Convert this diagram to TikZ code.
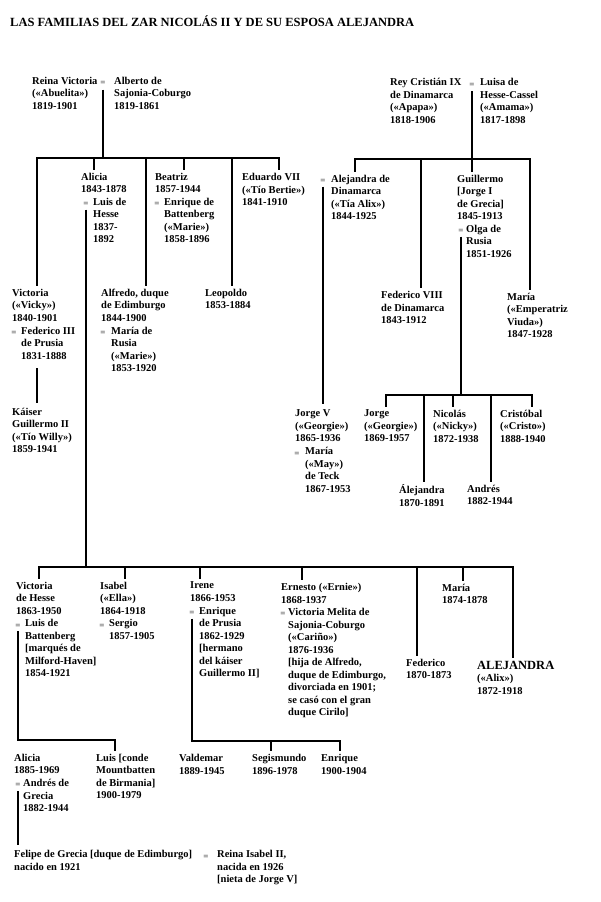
\documentclass[tikz,border=0pt]{standalone}
\usepackage{fontspec}
\setmainfont{Liberation Serif}

\begin{document}
\begin{tikzpicture}[x=1pt, y=-1pt,
	every node/.style={inner sep=0pt},
	person/.style={anchor=north west, align=left, yshift=8.75pt, font=\fontsize{10.5}{12.5}\selectfont\bfseries, execute at begin node=\strut},
	eq/.style={anchor=base, font=\fontsize{9}{12}\selectfont},
	famline/.style={line width=1.7pt, line join=miter},
	tie/.style={famline, shorten <=3pt, shorten >=3pt}]
	\useasboundingbox (0,0) rectangle (600,902);

	\node [anchor=base west, font=\fontsize{12.5}{15}\selectfont\bfseries] (title) at (10,27) {LAS FAMILIAS DEL ZAR NICOLÁS II Y DE SU ESPOSA ALEJANDRA};

	\node [person] (reinaV) at (32,85.5) {Reina Victoria\\(«Abuelita»)\\1819-1901};
	\node [eq] (eqRV) at (103,85.5) {=};
	\node [person] (alberto) at (114,85.5) {Alberto de\\Sajonia-Coburgo\\1819-1861};

	\node [person] (alicia) at (81,181.5) {Alicia\\1843-1878};
	\node [eq] (eqAL) at (86,206.5) {=};
	\node [person] (luisH) at (93,206.5) {Luis de\\Hesse\\1837-\\1892};
	\node [person] (beatriz) at (155,181.5) {Beatriz\\1857-1944};
	\node [eq] (eqBE) at (157,206.5) {=};
	\node [person] (enriqueB) at (164,206.5) {Enrique de\\Battenberg\\(«Marie»)\\1858-1896};
	\node [person] (eduardo) at (242,182) {Eduardo VII\\(«Tío Bertie»)\\1841-1910};
	\node [eq] (eqED) at (323,183.5) {=};
	\node [person] (alejD) at (331,183.5) {Alejandra de\\Dinamarca\\(«Tía Alix»)\\1844-1925};

	\node [person] (victoria) at (12,297.5) {Victoria\\(«Vicky»)\\1840-1901};
	\node [eq] (eqVI) at (14,335.5) {=};
	\node [person] (federico) at (21,335.5) {Federico III\\de Prusia\\1831-1888};
	\node [person] (kaiser) at (12,416.5) {Káiser\\Guillermo II\\(«Tío Willy»)\\1859-1941};
	\node [person] (alfredo) at (101,297.5) {Alfredo, duque\\de Edimburgo\\1844-1900};
	\node [eq] (eqAF) at (103,335.5) {=};
	\node [person] (mariaR) at (111,335.5) {María de\\Rusia\\(«Marie»)\\1853-1920};
	\node [person] (leopoldo) at (205,297.5) {Leopoldo\\1853-1884};

	\node [person] (cristian) at (390,87) {Rey Cristián IX\\de Dinamarca\\(«Apapa»)\\1818-1906};
	\node [eq] (eqCL) at (472,87) {=};
	\node [person] (luisa) at (480,87) {Luisa de\\Hesse-Cassel\\(«Amama»)\\1817-1898};

	\node [person] (guillermo) at (457,183.5) {Guillermo\\{[}Jorge I\\de Grecia]\\1845-1913};
	\node [eq] (eqGO) at (461,233.5) {=};
	\node [person] (olga) at (466,233.5) {Olga de\\Rusia\\1851-1926};
	\node [person] (federico8) at (381,300) {Federico VIII\\de Dinamarca\\1843-1912};
	\node [person] (mariaE) at (507,301.5) {María\\(«Emperatriz\\Viuda»)\\1847-1928};

	\node [person] (jorgeV) at (295,418.5) {Jorge V\\(«Georgie»)\\1865-1936};
	\node [eq] (eqJM) at (297,456) {=};
	\node [person] (mayT) at (305,456) {María\\(«May»)\\de Teck\\1867-1953};
	\node [person] (jorge) at (364,418.5) {Jorge\\(«Georgie»)\\1869-1957};
	\node [person] (nicolas) at (433,418.5) {Nicolás\\(«Nicky»)\\1872-1938};
	\node [person] (cristobal) at (500,418.5) {Cristóbal\\(«Cristo»)\\1888-1940};
	\node [person] (alejandraG) at (399,493.5) {Álejandra\\1870-1891};
	\node [person] (andres) at (467,493.5) {Andrés\\1882-1944};

	\node [person] (victoriaH) at (16,590.5) {Victoria\\de Hesse\\1863-1950};
	\node [eq] (eqVL) at (18,628) {=};
	\node [person] (luisB) at (25,628) {Luis de\\Battenberg\\{[}marqués de\\Milford-Haven]\\1854-1921};
	\node [person] (isabel) at (100,590.5) {Isabel\\(«Ella»)\\1864-1918};
	\node [eq] (eqIS) at (102,628) {=};
	\node [person] (sergio) at (109,628) {Sergio\\1857-1905};
	\node [person] (irene) at (190,590.5) {Irene\\1866-1953};
	\node [eq] (eqIR) at (192,615.5) {=};
	\node [person] (enriqueP) at (199,615.5) {Enrique\\de Prusia\\1862-1929\\{[}hermano\\del káiser\\Guillermo II]};
	\node [person] (ernesto) at (281,591.8) {Ernesto («Ernie»)\\1868-1937};
	\node [eq] (eqEV) at (283,616.8) {=};
	\node [person] (melita) at (288,616.8) {Victoria Melita de\\Sajonia-Coburgo\\(«Cariño»)\\1876-1936\\{[}hija de Alfredo,\\duque de Edimburgo,\\divorciada en 1901;\\se casó con el gran\\duque Cirilo]};
	\node [person] (mariaH) at (442,592.5) {María\\1874-1878};
	\node [person] (federicoH) at (406,667.5) {Federico\\1870-1873};
	\node [person] (alejandra) at (477,669.7) {{\fontsize{12.5}{14}\selectfont ALEJANDRA}\\(«Alix»)\\1872-1918};

	\node [person] (alicia2) at (14,762.5) {Alicia\\1885-1969};
	\node [eq] (eqAA) at (18,787.8) {=};
	\node [person] (andres2) at (23,787.8) {Andrés de\\Grecia\\1882-1944};
	\node [person] (luisM) at (96,762.5) {Luis [conde\\Mountbatten\\de Birmania]\\1900-1979};
	\node [person] (valdemar) at (179,763) {Valdemar\\1889-1945};
	\node [person] (segismundo) at (252,763) {Segismundo\\1896-1978};
	\node [person] (enrique) at (321,763) {Enrique\\1900-1904};

	\node [person] (felipe) at (14,859) {Felipe de Grecia [duque de Edimburgo]\\nacido en 1921};
	\node [eq] (eqFI) at (206,859) {=};
	\node [person] (isabelII) at (217,859) {Reina Isabel II,\\nacida en 1926\\{[}nieta de Jorge V]};

	\coordinate (v1) at (37,158);
	\coordinate (v2) at (94,158);
	\coordinate (v3) at (146,158);
	\coordinate (v4) at (184,158);
	\coordinate (v5) at (232,158);
	\coordinate (v6) at (279,158);
	\draw [famline, shorten <=4pt] (eqRV.south) -- (eqRV.south |- v1);
	\draw [tie] (v1 |- victoria.north) -- (v1) -- (v6) -- (v6 |- eduardo.north);
	\foreach \c/\n in {v2/alicia, v3/alfredo, v4/beatriz, v5/leopoldo}
		\draw [famline, shorten >=3pt] (\c) -- (\c |- \n.north);
	\draw [tie, shorten <=5pt, shorten >=5pt] (v1 |- federico.south) -- (v1 |- kaiser.north);

	\coordinate (w1) at (355,159);
	\coordinate (w2) at (421,159);
	\coordinate (w3) at (472,159);
	\coordinate (w4) at (530,159);
	\draw [famline, shorten <=4pt] (eqCL.south) -- (w3);
	\draw [tie] (w1 |- alejD.north) -- (w1) -- (w4) -- (w4 |- mariaE.north);
	\foreach \c/\n in {w2/federico8, w3/guillermo}
		\draw [famline, shorten >=3pt] (\c) -- (\c |- \n.north);
	\draw [tie, shorten >=6pt] (eqED.south) -- (eqED.south |- jorgeV.north);

	\coordinate (g1) at (386,395);
	\coordinate (g2) at (424,395);
	\coordinate (g3) at (453,395);
	\coordinate (g4) at (491,395);
	\coordinate (g5) at (532,395);
	\draw [famline, shorten <=3pt] (eqGO.south) -- (eqGO.south |- g1);
	\draw [tie] (g1 |- jorge.north) -- (g1) -- (g5) -- (g5 |- cristobal.north);
	\foreach \c/\n in {g2/alejandraG, g3/nicolas, g4/andres}
		\draw [famline, shorten >=3pt] (\c) -- (\c |- \n.north);

	\coordinate (a1) at (39,567);
	\coordinate (a2) at (125,567);
	\coordinate (a3) at (200,567);
	\coordinate (a4) at (302,567);
	\coordinate (a5) at (417,567);
	\coordinate (a6) at (463,567);
	\coordinate (a7) at (513,567);
	\draw [famline, shorten <=3pt] (eqAL.south) -- (eqAL.south |- a1);
	\draw [tie] (a1 |- victoriaH.north) -- (a1) -- (a7) -- (a7 |- alejandra.north);
	\foreach \c/\n in {a2/isabel, a3/irene, a4/ernesto, a5/federicoH, a6/mariaH}
		\draw [famline, shorten >=3pt] (\c) -- (\c |- \n.north);

	\coordinate (h2) at (115,740);
	\draw [tie] (eqVL.south) |- (h2) -- (h2 |- luisM.north);
	\coordinate (i2) at (271,741);
	\coordinate (i3) at (340,741);
	\draw [tie] (eqIR.south) |- (i3) -- (i3 |- enrique.north);
	\draw [famline, shorten >=3pt] (i2) -- (i2 |- segismundo.north);
	\draw [tie, shorten >=5pt] (eqAA.south) -- (eqAA.south |- felipe.north);
\end{tikzpicture}
\end{document}
